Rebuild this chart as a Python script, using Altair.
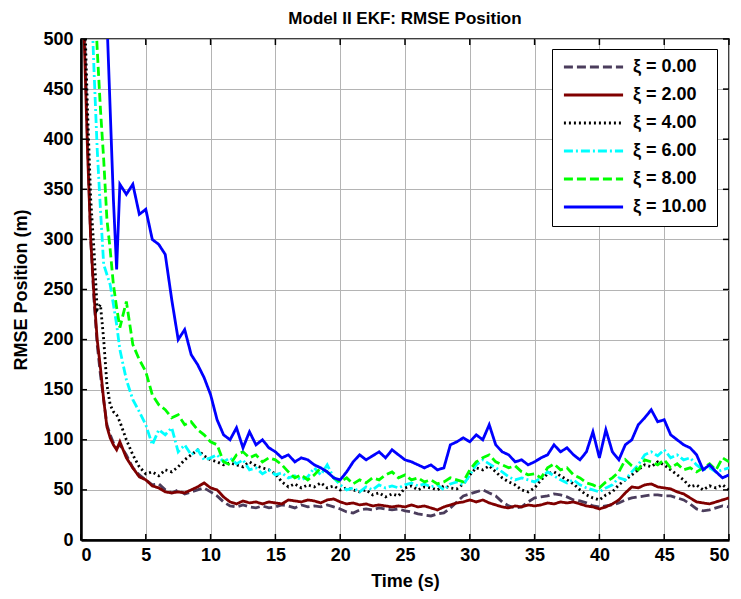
import altair as alt
import pandas as pd

# ---------------- data ----------------
series_names = ["ξ = 0.00", "ξ = 2.00", "ξ = 4.00", "ξ = 6.00", "ξ = 8.00", "ξ = 10.00"]
colors = ["#4b3d5c", "#800000", "#000000", "#00ffff", "#00ff00", "#0000ff"]
dashes = [[9, 4], [1, 0], [2, 3], [9, 3, 2, 3], [9, 4], [1, 0]]

x_ticks = [0, 5, 10, 15, 20, 25, 30, 35, 40, 45, 50]
y_ticks = [0, 50, 100, 150, 200, 250, 300, 350, 400, 450, 500]

t_early = [0, 0.25, 0.5, 0.75, 1.0, 1.25, 1.5, 1.75, 2.0, 2.25, 2.5, 2.75, 3.0]
t_late = [3.5 + 0.5 * i for i in range(94)]
time = t_early + t_late

xi0 = [700, 520, 400, 300, 240, 195, 165, 140, 115, 105, 97, 92, 95,
       85, 72, 65, 60, 55, 56, 50, 47, 50, 46,
       48, 50, 52, 48, 44, 38, 34, 33, 35, 33,
       32, 34, 32, 33, 35, 34, 32, 35, 33, 34,
       33, 35, 33, 31, 28, 27, 30, 31, 30, 32,
       31, 30, 31, 29, 28, 26, 25, 24, 26, 27,
       32, 38, 44, 46, 48, 50, 47, 44, 38, 34,
       32, 33, 38, 42, 43, 44, 46, 45, 43, 40,
       39, 37, 34, 33, 34, 35, 37, 40, 42, 43,
       44, 45, 45, 44, 44, 42, 40, 36, 31, 29,
       30, 32, 34, 33]

xi2 = [650, 500, 390, 300, 245, 200, 172, 140, 113, 102, 95, 90, 98,
       82, 72, 63, 60, 54, 52, 48, 47, 48, 47,
       50, 53, 57, 52, 50, 43, 38, 36, 39, 37,
       38, 36, 38, 37, 36, 40, 39, 38, 40, 39,
       37, 40, 41, 38, 36, 37, 35, 36, 34, 35,
       34, 33, 34, 33, 35, 33, 34, 32, 30, 33,
       35, 37, 38, 40, 38, 40, 37, 35, 33, 32,
       34, 33, 35, 34, 35, 37, 36, 38, 37, 38,
       36, 34, 33, 31, 33, 36, 40, 47, 53, 52,
       55, 56, 53, 52, 51, 48, 46, 42, 38, 37,
       36, 38, 40, 42]

xi4 = [680, 540, 430, 340, 290, 230, 235, 200, 155, 135, 128, 125, 118,
       100, 85, 73, 66, 68, 64, 70, 68, 73, 80,
       85, 90, 84, 80, 78, 75, 77, 75, 73, 78,
       74, 72, 70, 66, 58, 53, 56, 52, 55, 53,
       57, 52, 54, 50, 52, 50, 48, 50, 45, 47,
       43, 46, 44, 52, 54, 50, 53, 52, 50, 54,
       52, 51, 56, 65, 72, 70, 74, 68, 62, 58,
       55, 50, 48, 52, 60, 66, 68, 64, 60, 56,
       50, 45, 42, 40, 45, 48, 55, 60, 65, 70,
       75, 73, 78, 75, 70, 65, 60, 53, 55, 50,
       54, 52, 55, 50]

xi6 = [900, 800, 700, 560, 470, 390, 330, 275, 265, 255, 235, 215, 190,
       160, 140, 128, 115, 95, 110, 105, 112, 88, 95,
       85, 90, 80, 82, 85, 78, 82, 76, 80, 70,
       72, 66, 70, 65, 67, 62, 64, 60, 63, 72,
       65, 75, 62, 55, 50, 52, 48, 53, 50, 55,
       52, 54, 52, 55, 57, 54, 56, 53, 55, 50,
       56, 58, 55, 65, 75, 80, 76, 72, 68, 63,
       60, 62, 60, 58, 62, 68, 64, 60, 57, 60,
       55, 52, 50, 48, 52, 55, 62, 60, 68, 75,
       85, 88, 84, 90, 82, 85, 80, 82, 75, 70,
       72, 68, 70, 72]

xi8 = [900, 800, 700, 620, 560, 490, 430, 380, 320, 290, 255, 232, 212,
       238, 195, 180, 168, 145, 135, 130, 122, 125, 115,
       118, 110, 105, 98, 95, 78, 75, 85, 88, 82,
       85, 78, 82, 80, 75, 68, 62, 65, 60, 65,
       72, 68, 62, 58, 62, 56, 60, 57, 62, 60,
       65, 68, 62, 65, 60, 62, 58, 60, 56, 58,
       62, 60, 58, 70, 78, 82, 85, 78, 75, 72,
       74, 68, 65, 66, 62, 72, 76, 70, 72, 65,
       62, 57, 55, 52, 58, 62, 68, 80, 74, 70,
       80, 78, 75, 80, 72, 76, 70, 72, 68, 72,
       76, 70, 82, 78]

xi10 = [1200, 1100, 1000, 900, 800, 720, 650, 590, 520, 430, 340, 270, 355,
        345, 355, 325, 330, 300, 295, 285, 240, 200, 210,
        185, 175, 162, 145, 120, 105, 100, 112, 92, 108,
        95, 100, 92, 88, 82, 85, 78, 82, 80, 75,
        72, 68, 62, 60, 68, 78, 85, 80, 84, 88,
        82, 90, 85, 80, 78, 75, 72, 75, 70, 72,
        95, 98, 102, 98, 105, 100, 115, 95, 88, 85,
        78, 80, 75, 78, 82, 85, 95, 88, 92, 85,
        80, 88, 108, 82, 110, 88, 80, 95, 100, 115,
        122, 130, 118, 120, 105, 100, 95, 92, 85, 70,
        75, 68, 62, 65]

all_vals = [xi0, xi2, xi4, xi6, xi8, xi10]

rows = []
for name, vals in zip(series_names, all_vals):
    assert len(vals) == len(time), (name, len(vals))
    for t, v in zip(time, vals):
        rows.append({"t": t, "v": v, "series": name})
df = pd.DataFrame(rows)

# ---------------- chart ----------------
W, H = 648, 501
FONT = "Liberation Sans"

leg = alt.Legend(
    title=None, orient="none", legendX=471, legendY=10,
    symbolType="stroke", symbolSize=3500, symbolStrokeWidth=3,
    labelFont=FONT, labelFontSize=18, labelFontWeight="bold", labelColor="black",
    fillColor="white", strokeColor="black", padding=10,
    clipHeight=16, rowPadding=10, labelOffset=8,
)

xs = alt.Scale(domain=[0, 50], nice=False)
ys = alt.Scale(domain=[0, 500], nice=False)
x_axis = alt.Axis(values=x_ticks, title="Time (s)", labelPadding=6, titlePadding=8)
y_axis = alt.Axis(values=y_ticks, title="RMSE Position (m)", labelPadding=8, titlePadding=12)

lines = alt.Chart(df).mark_line(strokeWidth=2.8, clip=True).encode(
    x=alt.X("t:Q", scale=xs, axis=x_axis),
    y=alt.Y("v:Q", scale=ys, axis=y_axis),
    color=alt.Color("series:N", scale=alt.Scale(domain=series_names, range=colors), legend=leg),
    strokeDash=alt.StrokeDash("series:N", scale=alt.Scale(domain=series_names, range=dashes), legend=leg),
)

xt = pd.DataFrame({"t": x_ticks})
yt = pd.DataFrame({"v": y_ticks})
tick_style = dict(color="black", strokeWidth=1.5)
bt = alt.Chart(xt).mark_rule(**tick_style).encode(x=alt.X("t:Q", scale=xs, axis=x_axis), y=alt.value(H), y2=alt.value(H - 6))
tt = alt.Chart(xt).mark_rule(**tick_style).encode(x=alt.X("t:Q", scale=xs, axis=x_axis), y=alt.value(0), y2=alt.value(6))
lt = alt.Chart(yt).mark_rule(**tick_style).encode(y=alt.Y("v:Q", scale=ys, axis=y_axis), x=alt.value(0), x2=alt.value(6))
rt = alt.Chart(yt).mark_rule(**tick_style).encode(y=alt.Y("v:Q", scale=ys, axis=y_axis), x=alt.value(W), x2=alt.value(W - 6))

chart = alt.layer(lines, bt, tt, lt, rt).properties(
    width=W, height=H,
    title=alt.TitleParams("Model II EKF: RMSE Position", font=FONT, fontSize=17, fontWeight="bold",
                          color="black", offset=2, anchor="middle"),
    autosize=alt.AutoSizeParams(type="none"),
    padding={"left": 81, "top": 39, "right": 12, "bottom": 59},
    background="white",
).configure_view(
    stroke="black", strokeWidth=1.5
).configure_axis(
    labelFont=FONT, labelFontSize=18, labelFontWeight="bold", labelColor="black",
    titleFont=FONT, titleFontSize=18, titleFontWeight="bold", titleColor="black",
    grid=True, gridColor="#b4b4b4", gridWidth=1, tickSize=0,
    domainColor="black", domainWidth=2.5,
)

chart.save("out.html", embed_options={"renderer": "svg", "actions": False})
